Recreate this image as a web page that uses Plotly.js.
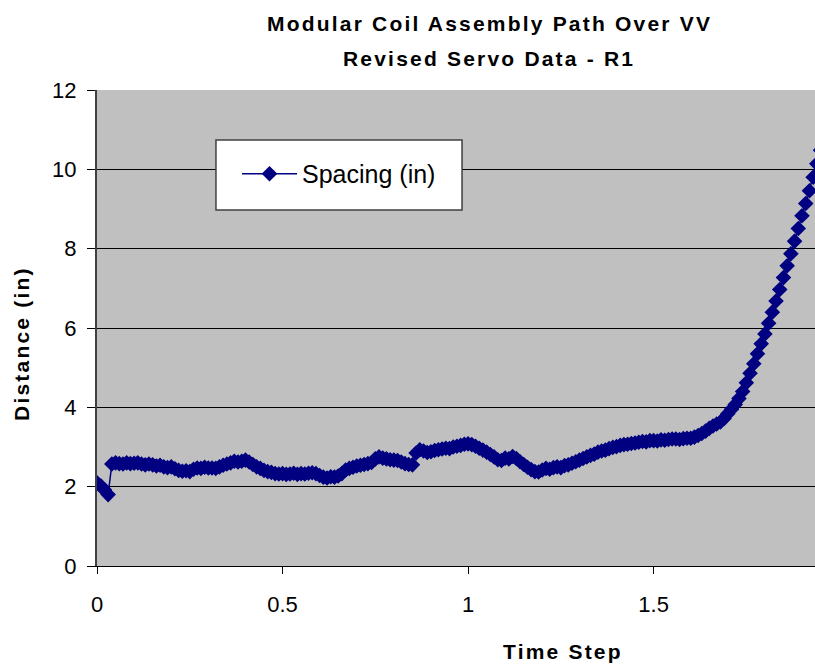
<!DOCTYPE html>
<html>
<head>
<meta charset="utf-8">
<script src="https://cdn.plot.ly/plotly-3.0.1.min.js"></script>
<style>
  html, body { margin: 0; padding: 0; background: #fff; }
  #chart { width: 815px; height: 664px; }
  text.annotation-text { letter-spacing: 2.2px; }
</style>
</head>
<body>
<div id="chart"></div>
<script>
// Time step values (x)
const timeStep = [
  0.00,0.01,0.02,0.03,0.04,0.05,0.06,0.07,0.08,0.09,
  0.10,0.11,0.12,0.13,0.14,0.15,0.16,0.17,0.18,0.19,
  0.20,0.21,0.22,0.23,0.24,0.25,0.26,0.27,0.28,0.29,
  0.30,0.31,0.32,0.33,0.34,0.35,0.36,0.37,0.38,0.39,
  0.40,0.41,0.42,0.43,0.44,0.45,0.46,0.47,0.48,0.49,
  0.50,0.51,0.52,0.53,0.54,0.55,0.56,0.57,0.58,0.59,
  0.60,0.61,0.62,0.63,0.64,0.65,0.66,0.67,0.68,0.69,
  0.70,0.71,0.72,0.73,0.74,0.75,0.76,0.77,0.78,0.79,
  0.80,0.81,0.82,0.83,0.84,0.85,0.86,0.87,0.88,0.89,
  0.90,0.91,0.92,0.93,0.94,0.95,0.96,0.97,0.98,0.99,
  1.00,1.01,1.02,1.03,1.04,1.05,1.06,1.07,1.08,1.09,
  1.10,1.11,1.12,1.13,1.14,1.15,1.16,1.17,1.18,1.19,
  1.20,1.21,1.22,1.23,1.24,1.25,1.26,1.27,1.28,1.29,
  1.30,1.31,1.32,1.33,1.34,1.35,1.36,1.37,1.38,1.39,
  1.40,1.41,1.42,1.43,1.44,1.45,1.46,1.47,1.48,1.49,
  1.50,1.51,1.52,1.53,1.54,1.55,1.56,1.57,1.58,1.59,
  1.60,1.61,1.62,1.63,1.64,1.65,1.66,1.67,1.68,1.69,
  1.70,1.71,1.72,1.73,1.74,1.75,1.76,1.77,1.78,1.79,
  1.80,1.81,1.82,1.83,1.84,1.85,1.86,1.87,1.88,1.89,
  1.90,1.91,1.92,1.93,1.94,1.95
];

// Spacing (in) values (y)
const spacing = [
  2.10,2.02,1.92,1.80,2.57,2.60,2.58,2.57,2.60,2.58,
  2.59,2.60,2.57,2.55,2.57,2.55,2.52,2.54,2.50,2.48,
  2.50,2.45,2.41,2.39,2.40,2.38,2.44,2.47,2.46,2.49,
  2.47,2.47,2.46,2.50,2.54,2.57,2.60,2.64,2.62,2.64,
  2.67,2.62,2.56,2.50,2.46,2.41,2.38,2.36,2.33,2.32,
  2.33,2.31,2.32,2.34,2.31,2.33,2.32,2.34,2.35,2.33,
  2.28,2.24,2.22,2.25,2.24,2.27,2.33,2.42,2.46,2.49,
  2.52,2.54,2.56,2.58,2.61,2.70,2.75,2.72,2.70,2.68,
  2.67,2.66,2.62,2.58,2.56,2.55,2.85,2.93,2.90,2.86,
  2.88,2.91,2.93,2.95,2.97,2.96,3.00,3.02,3.04,3.07,
  3.08,3.06,3.02,2.97,2.92,2.87,2.81,2.75,2.68,2.66,
  2.72,2.70,2.76,2.71,2.63,2.56,2.49,2.43,2.38,2.37,
  2.42,2.46,2.44,2.48,2.50,2.48,2.53,2.55,2.59,2.63,
  2.67,2.71,2.75,2.79,2.82,2.87,2.90,2.92,2.96,2.99,
  3.01,3.04,3.06,3.07,3.09,3.10,3.12,3.14,3.13,3.16,
  3.16,3.15,3.18,3.17,3.19,3.20,3.20,3.19,3.21,3.22,
  3.22,3.25,3.29,3.34,3.40,3.47,3.53,3.58,3.63,3.72,
  3.84,3.95,4.07,4.22,4.40,4.62,4.86,5.10,5.35,5.60,
  5.85,6.12,6.40,6.68,6.97,7.27,7.57,7.87,8.19,8.51,
  8.83,9.14,9.46,9.80,10.14,10.48
];

const xTickVals = [0, 0.5, 1, 1.5];
const xTickText = ['0', '0.5', '1', '1.5'];
const yTickVals = [0, 2, 4, 6, 8, 10, 12];
const yTickText = ['0', '2', '4', '6', '8', '10', '12'];

const titleLine1 = 'Modular Coil Assembly Path Over VV';
const titleLine2 = 'Revised Servo Data - R1';
const xTitle = 'Time Step';
const yTitle = 'Distance (in)';
const seriesName = 'Spacing (in)';

const FONT = 'Liberation Sans, Arial, Helvetica, sans-serif';
const NAVY = '#000080';

const trace = {
  x: timeStep,
  y: spacing,
  type: 'scatter',
  mode: 'lines+markers',
  name: seriesName,
  line: { color: NAVY, width: 1.5 },
  marker: { symbol: 'diamond', size: 12, color: NAVY, line: { width: 0 } },
  cliponaxis: true
};

const layout = {
  width: 815,
  height: 664,
  margin: { l: 97, r: 0, t: 90, b: 98, pad: 0 },
  paper_bgcolor: '#ffffff',
  plot_bgcolor: '#C0C0C0',
  font: { family: FONT, color: '#000000', size: 22 },
  showlegend: true,
  xaxis: {
    range: [0, 1.935],
    tickvals: xTickVals,
    ticktext: xTickText,
    ticks: 'outside',
    ticklen: 7,
    tickwidth: 1,
    tickcolor: '#000000',
    showline: true,
    linecolor: '#000000',
    linewidth: 1,
    showgrid: false,
    zeroline: false,
    tickfont: { family: FONT, size: 22, color: '#000000' },
    ticklabelstandoff: 12,
    fixedrange: true
  },
  yaxis: {
    range: [0, 12],
    tickvals: yTickVals,
    ticktext: yTickText,
    ticks: 'outside',
    ticklen: 8,
    tickwidth: 1,
    tickcolor: '#000000',
    showline: true,
    linecolor: '#404040',
    linewidth: 2,
    showgrid: true,
    gridcolor: '#000000',
    gridwidth: 1,
    zeroline: false,
    tickfont: { family: FONT, size: 22, color: '#000000' },
    ticklabelstandoff: 6,
    fixedrange: true
  },
  legend: {
    x: 0.195,
    y: 0.872,
    xanchor: 'left',
    yanchor: 'top',
    bgcolor: 'rgba(0,0,0,0)',
    borderwidth: 0,
    itemwidth: 55,
    font: { family: FONT, size: 25, color: '#000000' }
  },
  shapes: [
    {
      type: 'rect', xref: 'paper', yref: 'paper',
      x0: 0.1657, x1: 0.5084, y0: 0.748, y1: 0.895,
      fillcolor: '#ffffff',
      line: { color: '#404040', width: 1.5 },
      layer: 'above'
    }
  ],
  annotations: [
    {
      text: '<b>' + titleLine1 + '</b>', xref: 'paper', yref: 'paper',
      x: 0.546, y: 1.1387, xanchor: 'center', yanchor: 'middle', showarrow: false,
      font: { family: FONT, size: 21, color: '#000000' }
    },
    {
      text: '<b>' + titleLine2 + '</b>', xref: 'paper', yref: 'paper',
      x: 0.546, y: 1.0672, xanchor: 'center', yanchor: 'middle', showarrow: false,
      font: { family: FONT, size: 21, color: '#000000' }
    },
    {
      text: '<b>' + xTitle + '</b>', xref: 'paper', yref: 'paper',
      x: 0.649, y: -0.1786, xanchor: 'center', yanchor: 'middle', showarrow: false,
      font: { family: FONT, size: 21, color: '#000000' }
    },
    {
      text: '<b>' + yTitle + '</b>', xref: 'paper', yref: 'paper',
      x: -0.1045, y: 0.4685, xanchor: 'center', yanchor: 'middle', showarrow: false,
      textangle: -90,
      font: { family: FONT, size: 21, color: '#000000' }
    }
  ]
};

Plotly.newPlot('chart', [trace], layout, { displayModeBar: false, staticPlot: true });
</script>
</body>
</html>
